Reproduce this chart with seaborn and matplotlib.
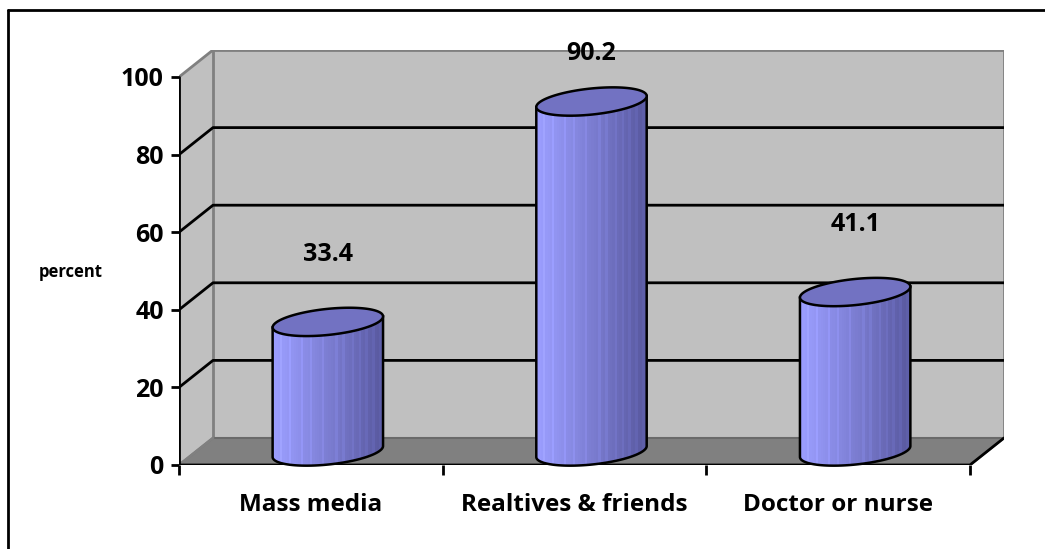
import numpy as np
import pandas as pd
import matplotlib
matplotlib.use("Agg")
import matplotlib.pyplot as plt
import seaborn as sns
from matplotlib.patches import Polygon
from matplotlib.transforms import Affine2D
from matplotlib.lines import Line2D

# ---------------- data ----------------
categories = ["Mass media", "Realtives & friends", "Doctor or nurse"]
values = [33.4, 90.2, 41.1]
value_labels = ["33.4", "90.2", "41.1"]
y_ticks = [0, 20, 40, 60, 80, 100]
y_label = "percent"

sns.set_theme(style="white")
plt.rcParams["font.family"] = ["Open Sans", "DejaVu Sans"]
plt.rcParams["font.weight"] = "bold"

W, H, DPI = 1045, 549, 100
fig = plt.figure(figsize=(W / DPI, H / DPI), dpi=DPI)
fig.patch.set_facecolor("white")

# frame geometry (pixels)
X0, X1 = 179, 970        # front floor edge
Y0, Y100 = 465, 77       # front value 0 and 100
DX, DY = 34, 27          # depth offset
ppx = (X1 - X0) / 3.0
ppy = (Y0 - Y100) / 100.0
dxu, dyu = DX / ppx, DY / ppy
XLIM = (-0.5, 2.5 + dxu)
YLIM = (0, 100 + dyu)
BEXT = 8.0  # extra data units below the bar axes for cylinder bottoms

# ---------------- main (frame) axes ----------------
ax = fig.add_axes([X0 / W, (H - Y0) / H, (X1 - X0 + DX) / W, (Y0 - Y100 + DY) / H])
ax.set_xlim(XLIM)
ax.set_ylim(YLIM)
ax.set_facecolor("none")
for s in ax.spines.values():
    s.set_visible(False)

wall = "#c0c0c0"
edge_gray = "#808080"
xa, xb = -0.5, 2.5
ax.add_patch(Polygon([(xa, 0), (xa + dxu, dyu), (xa + dxu, 100 + dyu), (xa, 100)],
                     closed=True, facecolor=wall, edgecolor="none", zorder=0))
ax.add_patch(Polygon([(xa + dxu, dyu), (xb + dxu, dyu), (xb + dxu, 100 + dyu), (xa + dxu, 100 + dyu)],
                     closed=True, facecolor=wall, edgecolor=edge_gray, lw=2, zorder=0.5))
ax.add_patch(Polygon([(xa, 0), (xb, 0), (xb + dxu, dyu), (xa + dxu, dyu)],
                     closed=True, facecolor="#808080", edgecolor="#6a6a6a", lw=1.5, zorder=1))
for v in y_ticks[1:-1]:
    ax.plot([xa, xa + dxu, xb + dxu], [v, v + dyu, v + dyu], color="black", lw=2, zorder=2,
            solid_capstyle="butt")
ax.plot([xa, xa + dxu], [100, 100 + dyu], color=edge_gray, lw=2, zorder=2)
ax.plot([xa, xa + dxu], [0, dyu], color=edge_gray, lw=2, zorder=2)
ax.plot([xa, xa], [0, 100], color="black", lw=2, zorder=3)
ax.plot([xa, xb, xb + dxu], [0, 0, dyu], color="black", lw=2, zorder=3)

ax.set_yticks(y_ticks)
ax.set_yticklabels([str(t) for t in y_ticks])
ax.tick_params(axis="y", left=True, length=6, width=2, color="black", direction="out",
               pad=5, labelsize=18, labelcolor="black")
ax.set_xticks([0, 1, 2])
ax.set_xticklabels(categories)
ax.set_xticks([-0.5, 0.5, 1.5, 2.5], minor=True)
ax.tick_params(axis="x", which="major", bottom=True, length=0, pad=20, labelsize=17.5,
               labelcolor="black")
ax.tick_params(axis="x", which="minor", bottom=True, length=7, width=2, color="black",
               direction="out")
for lbl in ax.get_xticklabels() + ax.get_yticklabels():
    lbl.set_fontweight("bold")
ax.grid(False)

# ---------------- bar axes (mid-depth) ----------------
yb0 = Y0 - DY / 2 + BEXT * ppy
axb = fig.add_axes([(X0 + DX / 2) / W, (H - yb0) / H, (X1 - X0 + DX) / W,
                    (Y0 - Y100 + DY + BEXT * ppy) / H])
df = pd.DataFrame({"source": categories, "percent": values})
sns.barplot(data=df, x="source", y="percent", ax=axb, width=111 / ppx,
            color="#8888dd", saturation=1)
BYLIM = (-BEXT, YLIM[1])
axb.set_xlim(XLIM)
axb.set_ylim(BYLIM)
axb.axis("off")
axb.patch.set_alpha(0)

theta = np.deg2rad(6.0)
b_px = 13.0
cR = np.array([[np.cos(theta), -np.sin(theta)], [np.sin(theta), np.cos(theta)]])


def ell(a, t):
    pts = np.stack([a * np.cos(t), b_px * np.sin(t)])
    return (cR @ pts).T


ncol = 48
c_left = np.array([155, 158, 255]) / 255
c_right = np.array([88, 88, 158]) / 255
fr = np.linspace(0, 1, ncol) ** 1.1
grad = c_left[None, :] * (1 - fr[:, None]) + c_right[None, :] * fr[:, None]
stripe = np.ones(ncol)
stripe[[3, 7, 12, 16, 21, 27, 30, 34, 37, 40, 43, 46]] = 1.06
grad = np.clip(grad * stripe[:, None], 0, 1)[None, :, :]

bars = list(axb.patches)
for p, lab in zip(bars, value_labels):
    cx = p.get_x() + p.get_width() / 2
    a_px = p.get_width() * ppx / 2
    h = p.get_height()
    h_px = h * ppy
    p.set_visible(False)

    tr = Affine2D().scale(1 / ppx, 1 / ppy).translate(cx, p.get_y()) + axb.transData
    t_r = np.arctan(-(b_px / a_px) * np.tan(theta))
    t_l = t_r + np.pi
    TL = ell(a_px, np.array([t_l]))[0] + [0, h_px]
    TR = ell(a_px, np.array([t_r]))[0] + [0, h_px]
    arc = ell(a_px, np.linspace(t_r, t_r - np.pi, 80))
    body_pts = np.vstack([TL, TR, arc])
    body = Polygon(body_pts, closed=True, facecolor="none", edgecolor="black", lw=1.8,
                   transform=tr, zorder=4)
    axb.add_patch(body)

    xext = np.sqrt((a_px * np.cos(theta)) ** 2 + (b_px * np.sin(theta)) ** 2) / ppx
    im = axb.imshow(grad, extent=[cx - xext, cx + xext, -BEXT, h + 5], aspect="auto",
                    interpolation="nearest", zorder=3)
    im.set_clip_path(body)

    top = ell(a_px, np.linspace(0, 2 * np.pi, 120)) + [0, h_px]
    axb.add_patch(Polygon(top, closed=True, facecolor="#7272c2", edgecolor="black", lw=1.8,
                          transform=tr, zorder=5))

    axb.text(cx, min(h + 17.5, 102.5), lab, ha="center", va="center", fontsize=18,
             fontweight="bold", color="black", zorder=6)

axb.set_xlim(XLIM)
axb.set_ylim(BYLIM)

fig.text(71 / W, 1 - 272 / H, y_label, ha="center", va="center", fontsize=12,
         fontweight="bold", color="black")

fig.add_artist(Line2D([8 / W, 8 / W], [0, 1 - 10 / H], color="black", lw=2))
fig.add_artist(Line2D([8 / W, 1], [1 - 10 / H, 1 - 10 / H], color="black", lw=2))

fig.savefig("out.png", dpi=DPI, facecolor="white")
